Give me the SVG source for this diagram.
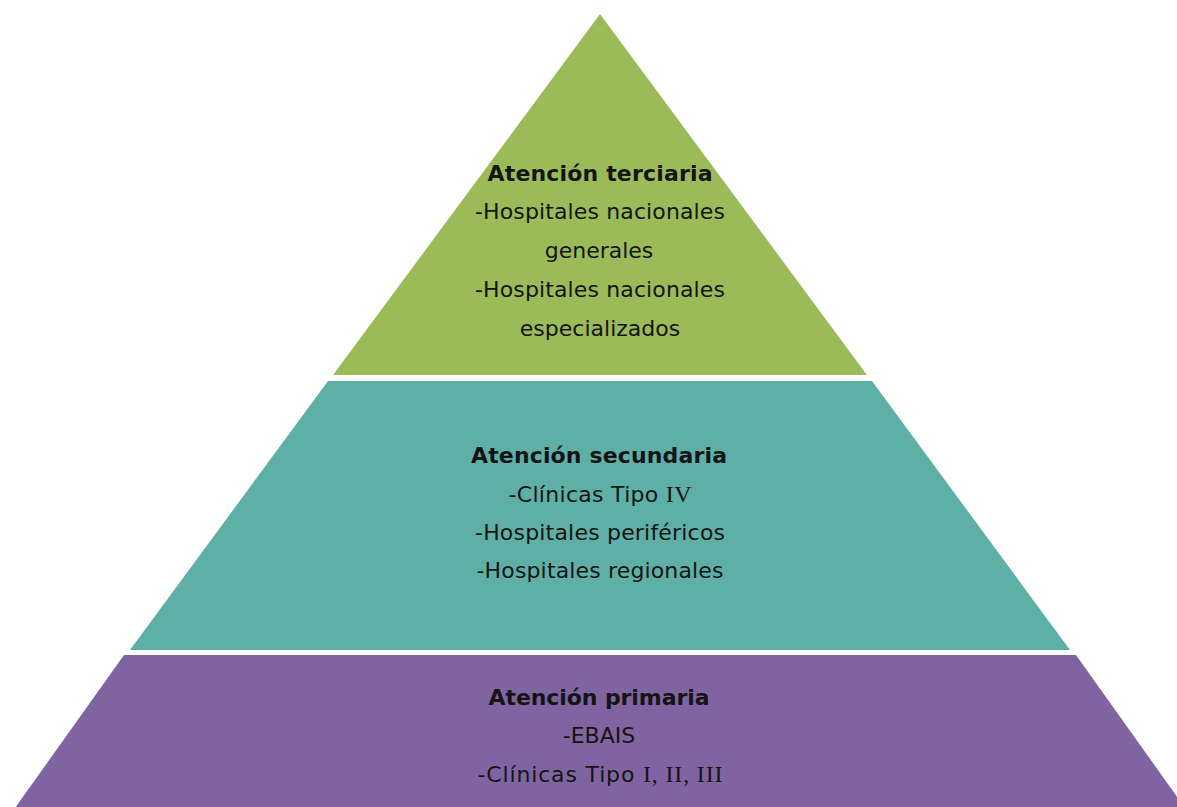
<svg xmlns="http://www.w3.org/2000/svg" width="1177" height="807" viewBox="0 0 1177 807">
  <style>
    .tier-top { fill: #9BBB59; }
    .tier-mid { fill: #5EAFA6; }
    .tier-base { fill: #8064A2; }
    text { font-family: "DejaVu Sans", "Liberation Sans", sans-serif; font-size: 22px; fill: #141414; text-anchor: middle; }
    .title { font-weight: bold; }
    .roman { font-family: "Liberation Serif", "DejaVu Serif", serif; font-size: 24px; }
  </style>
  <rect width="1177" height="807" fill="#ffffff"/>

  <!-- Top tier: tertiary care -->
  <g id="atencion-terciaria">
    <polygon class="tier-top" points="600,14 867,375 333,375"/>
    <text class="title" x="600" y="181" textLength="225" lengthAdjust="spacing">Atención terciaria</text>
    <text x="600" y="219" textLength="250" lengthAdjust="spacing">-Hospitales nacionales</text>
    <text x="599" y="258">generales</text>
    <text x="600" y="297" textLength="250" lengthAdjust="spacing">-Hospitales nacionales</text>
    <text x="600" y="336">especializados</text>
  </g>

  <!-- Middle tier: secondary care -->
  <g id="atencion-secundaria">
    <polygon class="tier-mid" points="328,381 872,381 1070,650 130,650"/>
    <text class="title" x="599" y="463" textLength="256" lengthAdjust="spacing">Atención secundaria</text>
    <text x="600" y="502" textLength="183" lengthAdjust="spacing">-Clínicas Tipo <tspan class="roman">IV</tspan></text>
    <text x="600" y="540" textLength="250" lengthAdjust="spacing">-Hospitales periféricos</text>
    <text x="600" y="578" textLength="247" lengthAdjust="spacing">-Hospitales regionales</text>
  </g>

  <!-- Base tier: primary care -->
  <g id="atencion-primaria">
    <polygon class="tier-base" points="124,655 1076,655 1190,815 10,815"/>
    <text class="title" x="599" y="705" textLength="221" lengthAdjust="spacing">Atención primaria</text>
    <text x="599" y="743">-EBAIS</text>
    <text x="600" y="782" textLength="245" lengthAdjust="spacing">-Clínicas Tipo <tspan class="roman">I, II, III</tspan></text>
  </g>

  <g id="connectors"/>
</svg>
